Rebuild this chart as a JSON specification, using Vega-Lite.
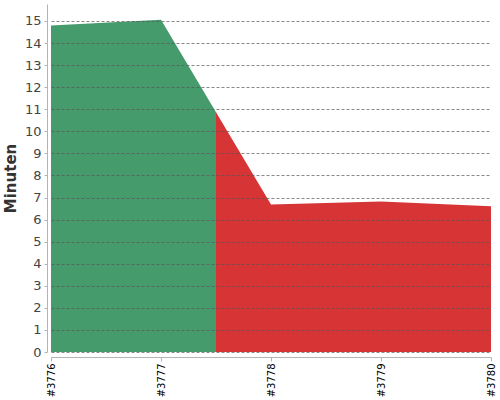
{
  "$schema": "https://vega.github.io/schema/vega-lite/v6.json",
  "autosize": "none",
  "width": 440,
  "height": 348,
  "padding": {"left": 51, "top": 4, "right": 9, "bottom": 48},
  "background": "white",
  "config": {"view": {"stroke": null}, "font": "DejaVu Sans"},
  "data": {
    "values": [
      {"build": "#3776", "pos": 0, "minutes": 14.8, "status": "success"},
      {"build": "#3777", "pos": 1, "minutes": 15.06, "status": "success"},
      {"build": "", "pos": 1.5, "minutes": 10.87, "status": "success"},
      {"build": "", "pos": 1.5, "minutes": 10.87, "status": "failed"},
      {"build": "#3778", "pos": 2, "minutes": 6.68, "status": "failed"},
      {"build": "#3779", "pos": 3, "minutes": 6.82, "status": "failed"},
      {"build": "#3780", "pos": 4, "minutes": 6.6, "status": "failed"}
    ]
  },
  "mark": {"type": "area", "interpolate": "linear"},
  "encoding": {
    "x": {
      "field": "pos",
      "type": "quantitative",
      "scale": {"domain": [0, 4], "nice": false, "zero": false},
      "axis": {
        "title": null,
        "values": [0, 1, 2, 3, 4],
        "labelExpr": "'#' + (3776 + datum.value)",
        "labelAngle": 270,
        "labelAlign": "right",
        "labelBaseline": "middle",
        "labelFontSize": 10,
        "labelColor": "#000",
        "labelPadding": 2,
        "offset": 5,
        "grid": false,
        "domainColor": "#b4b4b4",
        "tickColor": "#b4b4b4",
        "tickSize": 4,
        "labelFlush": false,
        "labelOverlap": false
      }
    },
    "y": {
      "field": "minutes",
      "type": "quantitative",
      "stack": null,
      "scale": {"domain": [0, 15.77], "nice": false},
      "axis": {
        "title": "Minuten",
        "titleFontSize": 15,
        "titleFontWeight": "bold",
        "titleColor": "#333",
        "titlePadding": 6,
        "values": [0, 1, 2, 3, 4, 5, 6, 7, 8, 9, 10, 11, 12, 13, 14, 15],
        "labelFontSize": 13,
        "labelColor": "#444",
        "labelPadding": 3,
        "offset": 4,
        "tickSize": 3,
        "tickColor": "#b4b4b4",
        "domainColor": "#b4b4b4",
        "grid": true,
        "gridDash": [3, 2],
        "gridColor": "#555",
        "gridOpacity": 0.7,
        "zindex": 1,
        "labelFlush": false,
        "labelOverlap": false
      }
    },
    "color": {
      "field": "status",
      "type": "nominal",
      "scale": {"domain": ["success", "failed"], "range": ["#459b6c", "#d73435"]},
      "legend": null
    },
    "opacity": {"value": 1}
  }
}
